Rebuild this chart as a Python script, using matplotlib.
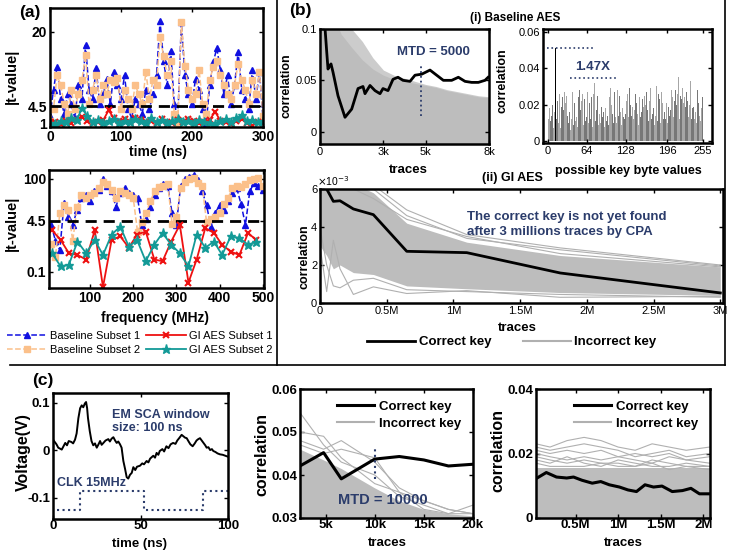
import numpy as np
import matplotlib.pyplot as plt
from matplotlib.lines import Line2D
from matplotlib.ticker import NullLocator

plt.rcParams['font.family'] = ['Liberation Sans', 'DejaVu Sans']

# ---------------- data ----------------
# (a) top: |t-value| over time (ns)
a_base1 = [2.5, 8, 12.8, 6, 3, 7, 5, 2, 9, 6,
           17.3, 8, 6, 12.4, 5, 7, 10.3, 5, 11.7, 9,
           6, 11, 4, 2, 6, 5, 3, 8, 4, 7,
           11, 22.2, 14, 9, 16, 5, 2, 22, 11, 7,
           5, 10.3, 8, 4, 1, 9, 13.8, 16.6, 12, 7,
           11, 5, 9, 15.9, 8, 6, 4, 12, 6, 11.7,
           2]
a_base2 = [1.5, 4, 11, 9, 5, 3, 8, 4, 7, 10,
           15.2, 5, 8, 11, 6, 9, 7, 10, 9.5, 10.5,
           4, 8, 6, 4, 9, 7, 5, 11.7, 6, 10,
           9, 19, 15, 11, 14, 3, 1, 22, 13, 8,
           6, 7, 12, 5, 3, 10, 12.8, 14, 11, 9,
           7, 6, 9, 13.4, 10, 8, 5, 10, 7, 11.7,
           2.5]
a_gi1 = [1.0, 1.2, 0.8, 1.5, 1.1, 1.7, 2.3, 1.4, 1.0, 1.2,
         1.6, 3.7, 2.0, 1.5, 1.8, 1.3, 2.1, 1.7, 1.2, 1.5,
         1.0, 1.8, 1.3, 1.1, 1.6, 1.2, 1.9, 1.4, 1.0, 1.3,
         1.7, 3.4, 1.5, 1.2, 0.9, 1.4, 1.8, 1.1, 0.4, 1.3,
         1.0]
a_gi2 = [1.0, 0.8, 1.5, 1.2, 2.0, 1.6, 4.1, 2.5, 1.3, 1.7,
         1.1, 1.4, 1.9, 1.0, 1.5, 1.2, 1.8, 1.4, 1.1, 2.0,
         1.3, 1.6, 1.0, 1.4, 1.8, 1.2, 1.5, 1.1, 1.7, 1.3,
         1.0, 0.8, 1.5, 1.9, 1.2, 2.0, 2.7, 1.4, 1.6, 1.2,
         1.5]
t_thresh = 4.5

# (a) bottom: |t-value| over frequency (MHz)
f_base1 = [3.3, 1.0, 0.5, 17, 6, 3.3, 10, 25, 30, 20,
           40, 45, 97, 60, 40, 12.7, 35, 50, 35, 30,
           25, 3.3, 5, 12, 30, 50, 70, 60, 8, 3.3,
           60, 100, 120, 135, 90, 40, 14, 2.9, 8, 14,
           10, 20, 35, 50, 15, 3.3, 40, 74, 60, 44]
f_base2 = [0.8, 0.3, 8, 14, 10, 1.0, 12, 30, 25, 30,
           35, 50, 80, 70, 45, 25, 40, 35, 30, 25,
           2, 4, 8, 20, 40, 55, 60, 70, 3.5, 6,
           50, 80, 100, 110, 75, 60, 4, 5, 6, 8,
           15, 25, 50, 60, 55, 70, 90, 100, 110, 60]
f_gi_freq = [12, 32, 51, 71, 91, 111, 130, 150, 170, 190, 209, 229, 249,
             268, 288, 308, 328, 347, 367, 387, 406, 426, 446, 466, 485]
f_gi1 = [2.2, 1.07, 0.4, 0.35, 0.25, 2.2, 0.032, 1.07, 1.4, 0.6, 1.6, 2.0, 0.25,
         0.22, 0.95, 3.3, 0.045, 0.25, 2.6, 1.8, 0.75, 0.45, 0.35, 1.8, 1.07]
f_gi2 = [0.4, 0.15, 0.17, 0.95, 0.4, 1.07, 0.35, 1.6, 2.9, 0.65, 1.07, 0.22, 0.75,
         1.8, 0.75, 0.4, 0.15, 1.6, 0.6, 0.95, 0.35, 1.4, 1.25, 0.75, 0.95]

# (b)(i) baseline CPA vs traces
b1_tr = [0, 120, 237, 317, 379, 450, 521, 615, 852, 1183,
         1500, 1800, 2035, 2130, 2367, 2603, 2840, 2982, 3219, 3456,
         3692, 3929, 4260, 4497, 4815, 5207, 5523, 5839, 6234, 6550,
         6865, 7180, 7495, 7810, 7960]
b1_correct = [0.20, 0.14, 0.101, 0.078, 0.061, 0.064, 0.066, 0.058, 0.035, 0.014,
              0.022, 0.042, 0.044, 0.037, 0.045, 0.040, 0.037, 0.042, 0.040, 0.051,
              0.053, 0.050, 0.049, 0.055, 0.056, 0.060, 0.055, 0.050, 0.050, 0.053,
              0.049, 0.048, 0.048, 0.050, 0.053]
b1_env_tr = [0, 500, 1000, 1500, 2000, 2500, 3000, 3500, 4000, 4500, 5000,
             5500, 6000, 6500, 7000, 7500, 8000]
b1_env_hi = [0.12, 0.12, 0.11, 0.10, 0.088, 0.072, 0.060, 0.055, 0.052, 0.049, 0.046,
             0.044, 0.041, 0.039, 0.037, 0.035, 0.034]
b1_env_core = [0.12, 0.12, 0.095, 0.082, 0.070, 0.061, 0.055, 0.051, 0.049, 0.047, 0.045,
               0.043, 0.040, 0.038, 0.036, 0.034, 0.033]
mtd_base = 4800

# (b)(i) correlation per key guess
key_corr = [0.009, 0.012, 0.006, 0.018, 0.011, 0.008, 0.014, 0.010, 0.020, 0.007, 0.013, 0.016, 0.009, 0.051, 0.012, 0.008,
            0.022, 0.010, 0.015, 0.026, 0.011, 0.007, 0.019, 0.013, 0.024, 0.009, 0.017, 0.027, 0.012, 0.021, 0.008, 0.025,
            0.014, 0.020, 0.010, 0.025, 0.016, 0.006, 0.023, 0.012, 0.018, 0.027, 0.009, 0.015, 0.021, 0.011, 0.026, 0.013,
            0.019, 0.008, 0.024, 0.014, 0.028, 0.010, 0.017, 0.022, 0.012, 0.026, 0.015, 0.009, 0.023, 0.018, 0.011, 0.025,
            0.013, 0.027, 0.016, 0.010, 0.021, 0.029, 0.012, 0.018, 0.024, 0.008, 0.019, 0.026, 0.014, 0.032, 0.011, 0.020,
            0.017, 0.012, 0.025, 0.009, 0.022, 0.015, 0.027, 0.010, 0.019, 0.023, 0.013, 0.030, 0.016, 0.008, 0.024, 0.018,
            0.011, 0.026, 0.014, 0.021, 0.009, 0.024, 0.017, 0.029, 0.012, 0.020, 0.015, 0.025, 0.010, 0.022, 0.027, 0.013,
            0.023, 0.010, 0.019, 0.028, 0.014, 0.011, 0.025, 0.016, 0.021, 0.009, 0.027, 0.018, 0.013, 0.024, 0.012, 0.020,
            0.015, 0.022, 0.011, 0.026, 0.018, 0.013, 0.029, 0.010, 0.020, 0.025, 0.014, 0.019, 0.033, 0.012, 0.022, 0.017,
            0.026, 0.012, 0.021, 0.015, 0.027, 0.009, 0.018, 0.024, 0.013, 0.028, 0.016, 0.011, 0.023, 0.019, 0.014, 0.025,
            0.010, 0.020, 0.027, 0.013, 0.017, 0.024, 0.011, 0.022, 0.016, 0.029, 0.012, 0.021, 0.015, 0.026, 0.018, 0.009,
            0.024, 0.014, 0.018, 0.030, 0.011, 0.020, 0.026, 0.013, 0.023, 0.010, 0.019, 0.027, 0.015, 0.021, 0.012, 0.025,
            0.016, 0.027, 0.012, 0.021, 0.025, 0.010, 0.019, 0.031, 0.014, 0.022, 0.017, 0.028, 0.011, 0.024, 0.018, 0.013,
            0.022, 0.011, 0.028, 0.016, 0.020, 0.026, 0.013, 0.035, 0.018, 0.012, 0.025, 0.015, 0.023, 0.029, 0.010, 0.021,
            0.014, 0.024, 0.019, 0.011, 0.027, 0.017, 0.022, 0.013, 0.026, 0.020, 0.015, 0.033, 0.012, 0.021, 0.018, 0.025,
            0.019, 0.012, 0.026, 0.016, 0.023, 0.010, 0.028, 0.017, 0.021, 0.014, 0.025, 0.011, 0.022, 0.018, 0.024, 0.020]
correct_key = 13
ratio = 1.47

# (b)(ii) GI AES CPA (traces in millions, correlation x1e-3)
b3_tr = [0, 0.05, 0.1, 0.15, 0.25, 0.4, 0.65, 1.1, 1.8, 3.0]
b3_correct = [6.1, 6.0, 5.35, 5.38, 4.95, 4.65, 2.72, 2.65, 1.58, 0.53]
b3_dense_hi = [6.5, 6.5, 6.5, 6.5, 6.3, 5.8, 4.2, 3.2, 2.5, 1.9]
b3_dense_lo = [3.0, 2.5, 1.8, 2.0, 1.6, 1.5, 0.9, 0.75, 0.55, 0.4]
b3_wrong = [
    [6.5, 6.5, 6.5, 6.5, 6.5, 6.2, 4.9, 3.6, 2.9, 2.0],
    [6.5, 6.5, 6.5, 6.5, 6.4, 6.0, 4.6, 3.4, 2.8, 1.95],
    [6.5, 6.2, 6.4, 6.3, 6.0, 5.5, 4.4, 3.5, 2.6, 1.9],
    [3.0, 0.6, 3.3, 1.8, 0.45, 0.85, 0.5, 0.65, 0.3, 0.35],
    [4.0, 2.0, 0.9, 0.8, 1.2, 1.3, 0.7, 0.6, 0.45, 0.3],
]

# (c) left: EM trace and clock
v_t = [0, 2, 3, 5, 6, 7, 8, 9, 10.5, 11.5, 12.6, 13.5, 14.5, 15.5, 16.4, 17.3, 18.2, 18.9,
       19.5, 20, 21, 22, 23, 24, 25, 26, 26.9, 27.8, 28.8, 30, 31.6, 32.5, 33.5, 34.5,
       35.5, 36.4, 37.3, 38.3, 39.2, 40.2, 41.2, 42.1, 43, 44, 45, 45.9, 47, 48, 49.7,
       51, 52, 53.5, 54.5, 55.5, 57.3, 58.3, 59.2, 60.2, 61, 62.5, 63.5, 64.8, 66, 67.2,
       68.6, 70, 71, 72.3, 73.5, 74.5, 75.5, 76.4, 77.5, 78.5, 79.8, 81, 82, 83, 84, 85,
       86, 87, 87.8, 88.8, 89.8, 90.8, 91.6, 92.8, 94, 95.4, 97, 98.5, 100]
v_em = [0.022, 0.012, 0.005, 0.001, 0.008, 0.015, 0.010, 0.019, 0.017, 0.014, 0.022, 0.035,
        0.067, 0.088, 0.094, 0.090, 0.098, 0.101, 0.088, 0.067, 0.040, 0.019, 0.010, 0.014,
        0.005, 0.012, 0.019, 0.011, 0.015, 0.020, 0.023, 0.018, 0.024, 0.027, 0.020, 0.015,
        0.018, 0.012, 0.005, -0.023, -0.040, -0.057, -0.060, -0.052, -0.048, -0.036, -0.042,
        -0.035, -0.033, -0.028, -0.030, -0.023, -0.026, -0.018, -0.012, -0.016, -0.006,
        -0.010, -0.002, 0.002, -0.003, 0.008, 0.004, 0.012, 0.015, 0.013, 0.020, 0.026,
        0.032, 0.029, 0.026, 0.025, 0.018, 0.012, 0.008, 0.014, 0.020, 0.023, 0.025, 0.020,
        0.015, 0.010, 0.005, 0.006, 0.000, 0.002, -0.002, -0.004, -0.007, -0.009, -0.010,
        -0.012, -0.014]
clk_t = [2, 15.5, 15.5, 52, 52, 86, 86, 100]
clk_v = [-0.126, -0.126, -0.087, -0.087, -0.126, -0.126, -0.087, -0.087]

# (c) middle: baseline on chip, traces
c2_tr = [2400, 4800, 6600, 10000, 12500, 15000, 17500, 20000]
c2_correct = [0.0421, 0.0452, 0.0391, 0.0437, 0.0443, 0.0435, 0.0421, 0.0425]
c2_dense_hi = [0.046, 0.0435, 0.0415, 0.037, 0.034, 0.032, 0.031, 0.0305]
c2_wrong = [
    [0.0545, 0.047, 0.043, 0.040, 0.035, 0.033, 0.031, 0.031],
    [0.050, 0.049, 0.044, 0.038, 0.036, 0.032, 0.031, 0.033],
    [0.048, 0.046, 0.048, 0.043, 0.037, 0.034, 0.032, 0.031],
    [0.047, 0.045, 0.046, 0.044, 0.036, 0.034, 0.032, 0.031],
]
mtd_chip = 10000

# (c) right: GI AES on chip (traces in millions)
c3_tr = [0.035, 0.156, 0.276, 0.396, 0.476, 0.576, 0.696, 0.796, 0.896, 1.016,
         1.116, 1.216, 1.316, 1.416, 1.516, 1.636, 1.756, 1.856, 1.956, 2.076]
c3_correct = [0.0122, 0.0141, 0.0127, 0.0124, 0.0127, 0.0117, 0.0108, 0.0113, 0.0103, 0.0096,
              0.0087, 0.0082, 0.0103, 0.0096, 0.0099, 0.0082, 0.0085, 0.0092, 0.0075, 0.0075]
c3_gray_tr = [0.035, 0.2, 0.4, 0.6, 0.8, 1.0, 1.2, 1.4, 1.6, 1.8, 2.076]
c3_dense_hi = [0.0155, 0.0155, 0.0155, 0.0155, 0.0155, 0.0155, 0.0155, 0.0155, 0.0155, 0.0155, 0.0155]
c3_wrong = [
    [0.023, 0.022, 0.024, 0.025, 0.024, 0.022, 0.021, 0.023, 0.022, 0.021, 0.022],
    [0.022, 0.021, 0.022, 0.023, 0.022, 0.021, 0.019, 0.020, 0.021, 0.019, 0.020],
    [0.021, 0.020, 0.021, 0.020, 0.021, 0.019, 0.020, 0.019, 0.020, 0.018, 0.019],
    [0.020, 0.019, 0.018, 0.019, 0.018, 0.019, 0.018, 0.017, 0.019, 0.018, 0.017],
    [0.019, 0.018, 0.017, 0.018, 0.017, 0.017, 0.016, 0.018, 0.017, 0.016, 0.016],
    [0.018, 0.017, 0.019, 0.017, 0.016, 0.018, 0.017, 0.016, 0.016, 0.017, 0.016],
    [0.017, 0.016, 0.016, 0.016, 0.017, 0.016, 0.016, 0.017, 0.015, 0.016, 0.015],
]

# ---------------- styles ----------------
W, H = 734, 550
navy = '#2b3c6b'
gray = '#bdbdbd'
gray_line = '#b0b0b0'
blue = '#1010e0'
orange = '#fbc08a'
red = '#ee1111'
teal = '#139a97'

fig = plt.figure(figsize=(W / 100, H / 100), dpi=100)


def box(x0, y0, x1, y1):
    return fig.add_axes([x0 / W, 1 - y1 / H, (x1 - x0) / W, (y1 - y0) / H])


def fx(x):
    return x / W


def fy(y):
    return 1 - y / H


def style(ax, xt, xl, yt, yl, fs, weight, xpad=2):
    ax.set_xticks(xt, xl, fontsize=fs, fontweight=weight)
    ax.set_yticks(yt, yl, fontsize=fs, fontweight=weight)
    ax.tick_params(direction='in', top=True, right=True, length=3, width=1, pad=2)
    ax.tick_params(axis='x', pad=xpad)
    ax.xaxis.set_minor_locator(NullLocator())
    ax.yaxis.set_minor_locator(NullLocator())
    for s in ax.spines.values():
        s.set_linewidth(1.8)


# ---------------- (a) top ----------------
ax = box(50, 8, 263, 127)
tb = np.linspace(0, 300, len(a_base1))
tg = np.linspace(0, 300, len(a_gi1))
l_b1, = ax.plot(tb, a_base1, ls='--', color=blue, lw=1.1, marker='^', ms=5, label='Baseline Subset 1')
l_b2, = ax.plot(tb, a_base2, ls='--', color=orange, lw=1.1, marker='s', ms=4.5, label='Baseline Subset 2')
ax.axhline(t_thresh, color='k', ls=(0, (4, 2.5)), lw=2)
l_g1, = ax.plot(tg, a_gi1, '-', color=red, lw=1.3, marker='x', ms=5, mew=1.5, label='GI AES Subset 1')
l_g2, = ax.plot(tg, a_gi2, '-', color=teal, lw=1.3, marker='*', ms=6.5, label='GI AES Subset 2')
ax.set_xlim(0, 300)
ax.set_ylim(0.2, 25)
style(ax, [0, 100, 200, 300], ['0', '100', '200', '300'], [1, 4.5, 20], ['1', '4.5', '20'], 10, 'bold')
fig.text(fx(12), fy(76), '|t-value|', rotation=90, ha='center', va='center', fontsize=10.5, fontweight='bold')
fig.text(fx(158), fy(152), 'time (ns)', ha='center', va='center', fontsize=10, fontweight='bold')

# ---------------- (a) bottom ----------------
ax = box(49, 170, 264, 288)
fb = np.linspace(10, 500, len(f_base1))
ax.plot(fb, f_base1, ls='--', color=blue, lw=1.1, marker='^', ms=5)
ax.plot(fb, f_base2, ls='--', color=orange, lw=1.1, marker='s', ms=4.5)
ax.axhline(t_thresh, color='k', ls=(0, (4, 2.5)), lw=2)
ax.plot(f_gi_freq, f_gi1, '-', color=red, lw=1.3, marker='x', ms=5, mew=1.5)
ax.plot(f_gi_freq, f_gi2, '-', color=teal, lw=1.3, marker='*', ms=6.5)
ax.set_yscale('log')
ax.set_xlim(5, 503)
ax.set_ylim(0.03, 195)
style(ax, [100, 200, 300, 400, 500], ['100', '200', '300', '400', '500'],
      [0.1, 4.5, 100], ['0.1', '4.5', '100'], 10, 'bold')
fig.text(fx(12), fy(223), '|t-value|', rotation=90, ha='center', va='center', fontsize=10.5, fontweight='bold')
fig.text(fx(155), fy(318), 'frequency (MHz)', ha='center', va='center', fontsize=10, fontweight='bold')

fig.legend(handles=[l_b1, l_b2, l_g1, l_g2], ncol=2, loc='center', bbox_to_anchor=(fx(140), fy(343)),
           frameon=False, fontsize=8, handlelength=3.6, columnspacing=0.5, labelspacing=0.35,
           handletextpad=0.3, borderpad=0, numpoints=1)

# ---------------- (b)(i) left ----------------
ax = box(320, 29, 489, 144)
ax.fill_between(b1_env_tr, -0.02, b1_env_hi, color='#cccccc', lw=0)
ax.fill_between(b1_env_tr, -0.02, b1_env_core, color=gray, lw=0)
ax.plot(b1_tr, b1_correct, color='k', lw=2)
ax.vlines(mtd_base, 0.015, 0.065, colors=navy, linestyles=':', lw=1.3)
ax.text(5350, 0.078, 'MTD = 5000', color=navy, fontsize=9.5, fontweight='bold', ha='center', va='center')
ax.set_xlim(0, 8000)
ax.set_ylim(-0.012, 0.1)
style(ax, [0, 3000, 5000, 8000], ['0', '3k', '5k', '8k'], [0, 0.05, 0.1], ['0', '0.05', '0.1'], 8, 'normal')
fig.text(fx(287), fy(86), 'correlation', rotation=90, ha='center', va='center', fontsize=9, fontweight='bold')
fig.text(fx(408), fy(170), 'traces', ha='center', va='center', fontsize=9.5, fontweight='bold')

# ---------------- (b)(i) right ----------------
ax = box(543, 29, 712, 143)
keys = np.arange(len(key_corr))
bar_cols = ['#777777' if k % 2 == 0 else '#a6a6a6' for k in keys]
ax.bar(keys, key_corr, width=1.0, color=bar_cols, lw=0)
ax.bar(correct_key, key_corr[correct_key], width=2.4, color='k', lw=0)
peak = key_corr[correct_key]
ax.hlines(peak, -2, 74, colors=navy, linestyles=':', lw=1.2)
ax.hlines(peak / ratio, 36, 113, colors=navy, linestyles=':', lw=1.2)
ax.text(74, 0.0405, '%.2fX' % ratio, color=navy, fontsize=9.5, fontweight='bold', ha='center', va='center')
ax.set_xlim(-8, 270)
ax.set_ylim(-0.001, 0.0615)
style(ax, [0, 64, 128, 196, 255], ['0', '64', '128', '196', '255'],
      [0, 0.02, 0.04, 0.06], ['0', '0.02', '0.04', '0.06'], 8, 'normal')
fig.text(fx(503), fy(81), 'correlation', rotation=90, ha='center', va='center', fontsize=9, fontweight='bold')
fig.text(fx(628), fy(171), 'possible key byte values', ha='center', va='center', fontsize=9, fontweight='bold')
fig.text(fx(515), fy(18), '(i) Baseline AES', ha='center', va='center', fontsize=8.5, fontweight='bold')

# ---------------- (b)(ii) ----------------
ax = box(320, 189, 723, 303)
ax.fill_between(b3_tr, b3_dense_lo, b3_dense_hi, color=gray, lw=0)
for w in b3_wrong:
    ax.plot(b3_tr, w, color=gray_line, lw=0.8)
l_corr, = ax.plot(b3_tr, b3_correct, color='k', lw=2, label='Correct key')
l_inc = Line2D([], [], color=gray_line, lw=1.5, label='Incorrect key')
ax.text(1.10, 4.12, 'The correct key is not yet found\nafter 3 millions traces by CPA', color=navy,
        fontsize=9.5, fontweight='bold', ha='left', va='center', linespacing=1.35)
ax.set_xlim(0, 3.02)
ax.set_ylim(0, 6)
style(ax, [0, 0.5, 1, 1.5, 2, 2.5, 3], ['0', '0.5M', '1M', '1.5M', '2M', '2.5M', '3M'],
      [0, 2, 4, 6], ['0', '2', '4', '6'], 8, 'normal')
fig.text(fx(333), fy(181), r'$\times$10$^{-3}$', ha='center', va='center', fontsize=7.5)
fig.text(fx(304), fy(257), 'correlation', rotation=90, ha='center', va='center', fontsize=9, fontweight='bold')
fig.text(fx(517), fy(328), 'traces', ha='center', va='center', fontsize=9.5, fontweight='bold')
fig.text(fx(512), fy(178), '(ii) GI AES', ha='center', va='center', fontsize=9, fontweight='bold')
fig.legend(handles=[l_corr, l_inc], ncol=2, loc='center', bbox_to_anchor=(fx(512), fy(342)),
           frameon=False, prop={'size': 9.5, 'weight': 'bold'}, handlelength=3.6,
           columnspacing=2.4, handletextpad=0.3, borderpad=0)

# ---------------- (c) left ----------------
ax = box(53, 393, 228, 519)
ax.plot(v_t, v_em, color='k', lw=1.4)
ax.plot(clk_t, clk_v, ls=':', color=navy, lw=1.5)
ax.text(33.5, 0.060, 'EM SCA window\nsize: 100 ns', color=navy, fontsize=9, fontweight='bold',
        ha='left', va='center', linespacing=1.2)
ax.text(2.5, -0.069, 'CLK 15MHz', color=navy, fontsize=9, fontweight='bold', ha='left', va='center')
ax.set_xlim(0, 100)
ax.set_ylim(-0.145, 0.12)
style(ax, [0, 50, 100], ['0', '50', '100'], [-0.1, 0, 0.1], ['-0.1', '0', '0.1'], 9.5, 'bold', xpad=1)
fig.text(fx(23), fy(452), 'Voltage(V)', rotation=90, ha='center', va='center', fontsize=11.5, fontweight='bold')
fig.text(fx(140), fy(549.5), 'time (ns)', ha='center', va='bottom', fontsize=9.5, fontweight='bold')

# ---------------- (c) middle ----------------
ax = box(300, 389, 473, 518)
ax.fill_between(c2_tr, 0.02, c2_dense_hi, color=gray, lw=0)
for w in c2_wrong:
    ax.plot(c2_tr, w, color=gray_line, lw=0.8)
ax.plot(c2_tr, c2_correct, color='k', lw=2.2)
ax.vlines(mtd_chip, 0.039, 0.046, colors=navy, linestyles=':', lw=1.5)
ax.text(10800, 0.0343, 'MTD = 10000', color=navy, fontsize=10.5, fontweight='bold', ha='center', va='center')
ax.legend(handles=[Line2D([], [], color='k', lw=2.2, label='Correct key'),
                   Line2D([], [], color=gray_line, lw=1.5, label='Incorrect key')],
          loc='upper right', frameon=False, prop={'size': 9.5, 'weight': 'bold'},
          handlelength=2.8, handletextpad=0.4, labelspacing=0.35, borderaxespad=0.5)
ax.set_xlim(2400, 20000)
ax.set_ylim(0.03, 0.06)
style(ax, [5000, 10000, 15000, 20000], ['5k', '10k', '15k', '20k'],
      [0.03, 0.04, 0.05, 0.06], ['0.03', '0.04', '0.05', '0.06'], 9.5, 'bold', xpad=1)
fig.text(fx(262), fy(455), 'correlation', rotation=90, ha='center', va='center', fontsize=11.5, fontweight='bold')
fig.text(fx(387), fy(549.5), 'traces', ha='center', va='bottom', fontsize=9.5, fontweight='bold')

# ---------------- (c) right ----------------
ax = box(536, 389, 710, 518)
ax.fill_between(c3_gray_tr, 0, c3_dense_hi, color=gray, lw=0)
for w in c3_wrong:
    ax.plot(c3_gray_tr, w, color=gray_line, lw=0.8)
ax.plot(c3_tr, c3_correct, color='k', lw=2.2)
ax.legend(handles=[Line2D([], [], color='k', lw=2.2, label='Correct key'),
                   Line2D([], [], color=gray_line, lw=1.5, label='Incorrect key')],
          loc='upper right', frameon=False, prop={'size': 9.5, 'weight': 'bold'},
          handlelength=2.8, handletextpad=0.4, labelspacing=0.35, borderaxespad=0.5)
ax.set_xlim(0.035, 2.08)
ax.set_ylim(0, 0.04)
style(ax, [0.5, 1, 1.5, 2], ['0.5M', '1M', '1.5M', '2M'], [0, 0.02, 0.04], ['0', '0.02', '0.04'], 9.5, 'bold', xpad=1)
fig.text(fx(498), fy(450), 'correlation', rotation=90, ha='center', va='center', fontsize=11.5, fontweight='bold')
fig.text(fx(623), fy(549.5), 'traces', ha='center', va='bottom', fontsize=9.5, fontweight='bold')

# ---------------- panel letters & separators ----------------
fig.text(fx(30), fy(13), '(a)', ha='center', va='center', fontsize=12.5, fontweight='bold')
fig.text(fx(300), fy(11), '(b)', ha='center', va='center', fontsize=12.5, fontweight='bold')
fig.text(fx(43), fy(380), '(c)', ha='center', va='center', fontsize=12.5, fontweight='bold')
for xs, ys in [([277, 277], [0, 365]), ([725, 725], [0, 365]), ([10, 725], [365, 365])]:
    fig.add_artist(Line2D([fx(x) for x in xs], [fy(y) for y in ys], color='k', lw=1.2))

fig.savefig('out.png', dpi=100)
